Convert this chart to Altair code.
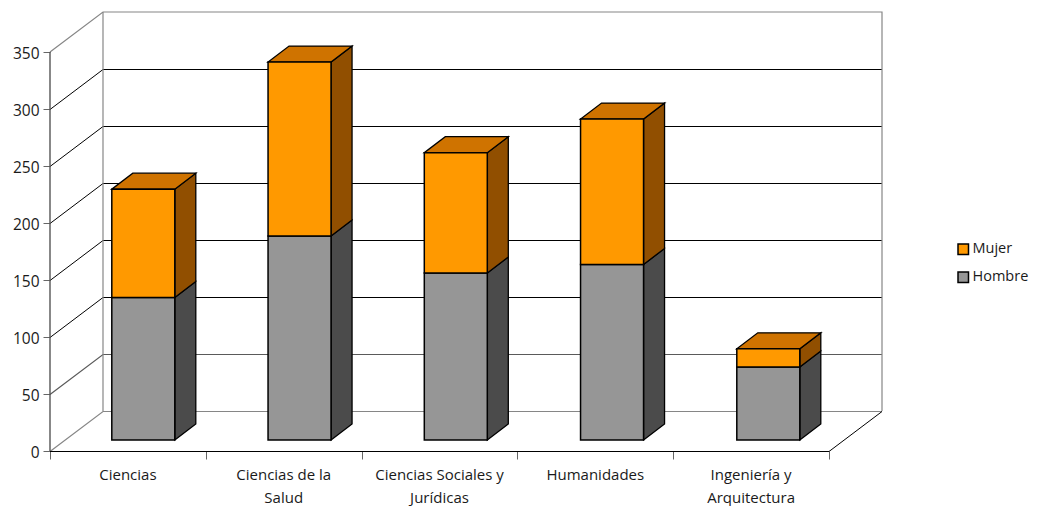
import altair as alt
import pandas as pd

categories = ["Ciencias", "Ciencias de la Salud", "Ciencias Sociales y Jurídicas", "Humanidades", "Ingeniería y Arquitectura"]
line_one = ["Ciencias", "Ciencias de la", "Ciencias Sociales y", "Humanidades", "Ingeniería y"]
line_two = ["", "Salud", "Jurídicas", "", "Arquitectura"]
hombre = [125, 179, 146.5, 154, 64]
mujer = [95, 152.5, 105.5, 127.5, 16]
y_ticks = [0, 50, 100, 150, 200, 250, 300, 350]

FONT = "Open Sans"
FS = 15.5
FS_LEGEND = 14.5
FS_CAT = 15
TXT = "#1a1a1a"
PW, PH = 832, 439
PX_X, PX_Y = 155.8, 1.14
WX, WY = 53 / PX_X, 40 / PX_Y           # wall depth in data units
BAR_L, BAR_W = 61.8 / PX_X, 63 / PX_X
BAR_PITCH = 156.25 / PX_X
BX, BY = 21 / PX_X, 16 / PX_Y           # bar depth
FLOOR = 11 / PX_Y                       # bars stand forward of axis plane
SNAP = -0.5 / PX_Y                      # lines sit on a pixel row
n = len(categories)

x_scale = alt.Scale(domain=[0, PW / PX_X], nice=False, zero=False)
y_scale = alt.Scale(domain=[0, PH / PX_Y], nice=False, zero=False)
x_axis = alt.Axis(values=list(range(n + 1)), labels=False, domain=False, grid=False, title=None,
                  tickColor="#666666", tickSize=8)
y_axis = alt.Axis(values=y_ticks, domain=False, grid=False, title=None, tickColor="#666666", tickSize=7,
                  labelFont=FONT, labelFontSize=FS, labelColor=TXT, labelPadding=4, labelOffset=1)
XE = alt.X("x:Q", scale=x_scale, axis=x_axis)
YE = alt.Y("y:Q", scale=y_scale, axis=y_axis)


def polyline(rows, color, width=1.0):
    df = pd.DataFrame([{"x": x, "y": y, "g": g, "o": o}
                       for g, pts in enumerate(rows) for o, (x, y) in enumerate(pts)])
    return alt.Chart(df).mark_line(color=color, strokeWidth=width, clip=False).encode(
        x=XE, y=YE, detail="g:N", order="o:Q")


def grid_row(v):
    return [(0, v + SNAP), (WX, v + WY + SNAP), (n + WX, v + WY + SNAP)]


grid = polyline([grid_row(v) for v in y_ticks[2:-1]], "#000000", 1.0)
grid_low = polyline([grid_row(y_ticks[1])], "#5a5a5a", 1.2)
walls = polyline([
    [(WX, WY), (WX, 350 + WY)],
    [(0, 350), (WX, 350 + WY), (n + WX, 350 + WY), (n + WX, WY)],
    [(0, SNAP), (WX, WY + SNAP), (n + WX, WY + SNAP)],
], "#868686", 1.2)
floor_edge = polyline([[(n, SNAP), (n + WX, WY + SNAP)]], "#000000", 1.0)
base_line = polyline([[(0, SNAP), (n, SNAP)]], "#000000", 1.2)
y_line = polyline([[(0, 0), (0, 350)]], "#555555", 1.4)

bottoms = {"Hombre": [0.0] * n, "Mujer": hombre}
values = {"Hombre": hombre, "Mujer": mujer}
FRONT = {"Mujer": "#FF9900", "Hombre": "#969696"}
SIDE = {"Mujer": "#914F00", "Hombre": "#4B4B4B"}
TOP = "#CF7300"

front_rows, side_rows, top_rows = [], [], []
for s in ["Hombre", "Mujer"]:
    for i in range(n):
        xl = BAR_L + i * BAR_PITCH
        xr = xl + BAR_W
        y0 = FLOOR + bottoms[s][i]
        y1 = y0 + values[s][i]
        front_rows.append({"x": xl, "x2": xr, "y": y0, "y2": y1, "serie": s})
        side_rows += [
            {"x": xr, "y": y0, "y2": y1, "b": i, "s": s},
            {"x": xr + BX, "y": y0 + BY, "y2": y1 + BY, "b": i, "s": s},
        ]
        if s == "Mujer":
            top_rows += [
                {"x": xl, "y": y1, "y2": y1, "b": i},
                {"x": xl + BX, "y": y1, "y2": y1 + BY, "b": i},
                {"x": xr, "y": y1, "y2": y1 + BY, "b": i},
                {"x": xr + BX, "y": y1 + BY, "y2": y1 + BY, "b": i},
            ]
side_df = pd.DataFrame(side_rows)


def face(df, fill):
    return alt.Chart(df).mark_area(color=fill, stroke="#000000", strokeWidth=1.3, clip=False, opacity=1).encode(
        x=XE, y=YE, y2="y2:Q", detail="b:N")


sides = [face(side_df[side_df.s == s], SIDE[s]) for s in ["Hombre", "Mujer"]]
top = face(pd.DataFrame(top_rows), TOP)

front = alt.Chart(pd.DataFrame(front_rows)).mark_rect(stroke="#000000", strokeWidth=1.5, clip=False).encode(
    x=XE, x2="x2:Q", y=YE, y2="y2:Q",
    color=alt.Color("serie:N", scale=alt.Scale(domain=["Mujer", "Hombre"], range=[FRONT["Mujer"], FRONT["Hombre"]]),
                    legend=alt.Legend(orient="none", legendX=906, legendY=230, title=None,
                                      symbolType="square", symbolSize=110, symbolStrokeColor="#000000",
                                      symbolStrokeWidth=1.5, symbolOpacity=1,
                                      labelFont=FONT, labelFontSize=FS_LEGEND, labelColor=TXT,
                                      rowPadding=11, labelOffset=2)),
)

lab_df = pd.DataFrame({"x": [i + 0.5 for i in range(n)], "one": line_one, "two": line_two})
lab1 = alt.Chart(lab_df).mark_text(font=FONT, fontSize=FS_CAT, color=TXT, baseline="middle", clip=False).encode(
    x=XE, y=alt.value(462.5), text="one:N")
lab2 = alt.Chart(lab_df).mark_text(font=FONT, fontSize=FS_CAT, color=TXT, baseline="middle", clip=False).encode(
    x=XE, y=alt.value(486), text="two:N")

chart = alt.layer(grid, grid_low, walls, floor_edge, y_line, *sides, top, front, base_line, lab1, lab2).properties(
    width=PW, height=PH,
    autosize=alt.AutoSizeParams(type="none"),
    padding={"left": 42, "top": 4, "right": 147, "bottom": 55},
    background="white",
).configure_view(stroke=None)

chart.save("out.html", embed_options={"renderer": "svg", "actions": False})
